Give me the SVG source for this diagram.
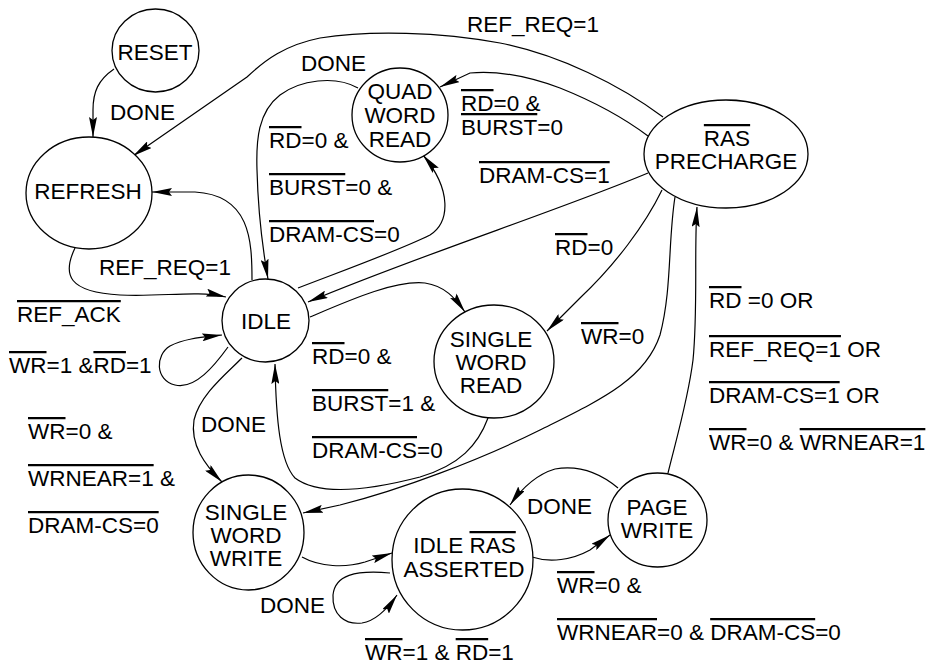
<svg xmlns="http://www.w3.org/2000/svg" width="933" height="665" viewBox="0 0 933 665">
<style>
.n{fill:#fff;stroke:#000;stroke-width:1.3}
text{font-family:"Liberation Sans",Arial,Helvetica,sans-serif;font-size:22.5px;fill:#000}
.c{text-anchor:middle}
.o{text-decoration:overline}
.e{fill:none;stroke:#000;stroke-width:1.2;marker-end:url(#a)}
</style>
<defs>
<marker id="a" viewBox="0 0 20 8" refX="20" refY="4" markerWidth="20" markerHeight="8" markerUnits="userSpaceOnUse" orient="auto">
<path d="M0,0 L20,4 L0,8 L3,4 z" fill="#000"/>
</marker>
</defs>
<g id="connectors">
<path class="e" d="M114,69 C98,80 93,92 93,110 L93,137"/>
<path class="e" d="M663,117 C620,85 560,55 500,43 C440,32 370,30 320,38 C285,45 265,60 247,77 L133,156"/>
<path class="e" d="M648,136 C620,115 590,100 560,88 C530,77 500,70 470,73 L440,87"/>
<path class="e" d="M298,288 C350,268 400,250 430,235 C450,222 452,190 423,155"/>
<path class="e" d="M358,88 C335,75 300,80 280,95 C258,112 256,140 257,170 C258,210 262,245 268,279"/>
<path class="e" d="M252,280 C252,240 250,195 195,192 L152,192"/>
<path class="e" d="M75,248 C62,275 68,292 120,295 C165,297 195,290 226,297"/>
<path class="e" d="M648,173 C560,210 420,255 308,302"/>
<path class="e" d="M310,317 C350,300 395,280 425,283 C445,286 455,298 465,312"/>
<path class="e" d="M662,190 C645,225 615,265 580,298 L547,331"/>
<path class="e" d="M675,197 C668,240 672,290 660,335 C645,380 600,400 540,430 C480,460 400,490 340,505 L303,513"/>
<path class="e" d="M488,418 C478,445 460,465 420,477 C370,490 320,497 295,478 C280,462 276,420 275,364"/>
<path class="e" d="M242,358 C225,375 200,395 194,420 C190,445 205,465 222,482"/>
<path class="e" d="M228,347 C215,365 195,390 175,385 C155,380 155,355 170,346 C185,338 205,337 222,335"/>
<path class="e" d="M302,557 C320,567 345,568 365,562 L392,553"/>
<path class="e" d="M390,573 C355,570 335,575 333,595 C332,615 345,625 362,623 C375,621 388,608 397,595"/>
<path class="e" d="M532,557 C550,563 572,560 590,550 L610,535"/>
<path class="e" d="M618,488 C600,473 578,465 555,469 C538,474 522,488 510,505"/>
<path class="e" d="M668,473 C676,440 688,400 693,360 C698,310 694,250 697,207"/>
</g>
<g id="reset"><ellipse class="n" cx="155.5" cy="50.5" rx="43.5" ry="41.5"/><text class="c" x="155" y="60">RESET</text></g>
<g id="refresh"><ellipse class="n" cx="89" cy="193" rx="63" ry="56"/><text class="c" x="88" y="199">REFRESH</text></g>
<g id="quad-word-read"><ellipse class="n" cx="400" cy="115" rx="48" ry="47"/><text class="c" x="400" y="99">QUAD</text><text class="c" x="400" y="123">WORD</text><text class="c" x="400" y="147">READ</text></g>
<g id="ras-precharge"><ellipse class="n" cx="726" cy="154" rx="82" ry="54"/><text class="c" x="727" y="146"><tspan class="o">RAS</tspan></text><text class="c" x="726" y="169">PRECHARGE</text></g>
<g id="idle"><ellipse class="n" cx="265.5" cy="320.5" rx="43.5" ry="41.5"/><text class="c" x="266" y="329">IDLE</text></g>
<g id="single-word-read"><ellipse class="n" cx="494" cy="361.5" rx="60" ry="56.5"/><text class="c" x="491" y="347">SINGLE</text><text class="c" x="491" y="370">WORD</text><text class="c" x="491" y="393">READ</text></g>
<g id="single-word-write"><ellipse class="n" cx="248.5" cy="532.5" rx="55.5" ry="57.5"/><text class="c" x="246" y="520">SINGLE</text><text class="c" x="246" y="543">WORD</text><text class="c" x="246" y="566">WRITE</text></g>
<g id="idle-ras-asserted"><ellipse class="n" cx="462.5" cy="559.5" rx="70.5" ry="70.5"/><text class="c" x="464.5" y="553">IDLE <tspan class="o">RAS</tspan></text><text class="c" x="464" y="577">ASSERTED</text></g>
<g id="page-write"><ellipse class="n" cx="657.5" cy="520" rx="49.5" ry="47"/><text class="c" x="657" y="515">PAGE</text><text class="c" x="657" y="538">WRITE</text></g>
<g id="labels">
<text x="110" y="120">DONE</text>
<text x="467" y="32">REF_REQ=1</text>
<text x="301" y="71">DONE</text>
<text x="461" y="111"><tspan class="o">RD</tspan>=0 &amp;</text>
<text x="461" y="135"><tspan class="o">BURST</tspan>=0</text>
<text x="269" y="148"><tspan class="o">RD</tspan>=0 &amp;</text>
<text x="269" y="195"><tspan class="o">BURST</tspan>=0 &amp;</text>
<text x="269" y="242"><tspan class="o">DRAM-CS</tspan>=0</text>
<text x="479" y="183"><tspan class="o">DRAM-CS=1</tspan></text>
<text x="99" y="275">REF_REQ=1</text>
<text x="17" y="322"><tspan class="o">REF_ACK</tspan></text>
<text x="555" y="255"><tspan class="o">RD</tspan>=0</text>
<text x="709" y="308"><tspan class="o">RD</tspan> =0 OR</text>
<text x="581" y="344"><tspan class="o">WR</tspan>=0</text>
<text x="9" y="373"><tspan class="o">WR</tspan>=1 &amp;<tspan class="o">RD</tspan>=1</text>
<text x="312" y="364"><tspan class="o">RD</tspan>=0 &amp;</text>
<text x="709" y="357"><tspan class="o">REF_REQ=1</tspan> OR</text>
<text x="709" y="403"><tspan class="o">DRAM-CS=1</tspan> OR</text>
<text x="312" y="411"><tspan class="o">BURST</tspan>=1 &amp;</text>
<text x="201" y="432">DONE</text>
<text x="28" y="439"><tspan class="o">WR</tspan>=0 &amp;</text>
<text x="709" y="450"><tspan class="o">WR</tspan>=0 &amp; <tspan class="o">WRNEAR=1</tspan></text>
<text x="312" y="458"><tspan class="o">DRAM-CS</tspan>=0</text>
<text x="28" y="486"><tspan class="o">WRNEAR=1</tspan> &amp;</text>
<text x="527" y="514">DONE</text>
<text x="28" y="533"><tspan class="o">DRAM-CS=0</tspan></text>
<text x="557" y="593"><tspan class="o">WR</tspan>=0 &amp;</text>
<text x="260" y="613">DONE</text>
<text x="557" y="640"><tspan class="o">WRNEAR</tspan>=0 &amp; <tspan class="o">DRAM-CS</tspan>=0</text>
<text x="365" y="660"><tspan class="o">WR</tspan>=1 &amp; <tspan class="o">RD</tspan>=1</text>
</g>
</svg>
